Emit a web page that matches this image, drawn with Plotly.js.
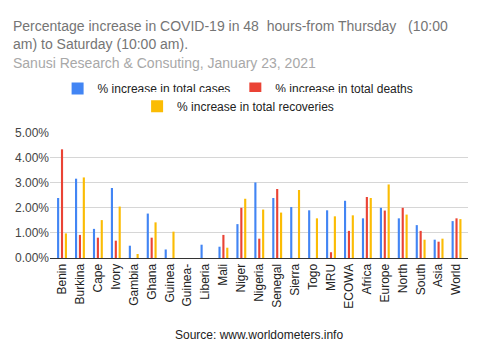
<!DOCTYPE html>
<html><head><meta charset="utf-8">
<script src="https://cdn.plot.ly/plotly-3.0.1.min.js"></script>
<style>html,body{margin:0;padding:0;background:#fff;}#chart{width:480px;height:360px;}</style>
</head><body><div id="chart"></div>
<script>
const cats = ["Benin","Burkina","Cape","Ivory","Gambia","Ghana","Guinea","Guinea-","Liberia","Mali","Niger","Nigeria","Senegal","Sierra","Togo","MRU","ECOWA","Africa","Europe","North","South","Asia","World"];
const cases      = [2.39,3.16,1.16,2.79,0.49,1.77,0.34,0,0.53,0.45,1.35,3.01,2.39,2.03,1.90,1.90,2.28,1.58,2.00,1.58,1.31,0.73,1.47];
const deaths     = [4.33,0.92,0.81,0.69,0,0.81,0,0,0,0.92,2.00,0.77,2.75,0,0,0.23,1.08,2.43,1.89,2.00,1.08,0.65,1.58];
const recoveries = [0.98,3.21,1.51,2.05,0.16,1.42,1.05,0,0,0.41,2.36,1.93,1.81,2.71,1.58,1.66,1.70,2.39,2.93,1.73,0.73,0.77,1.55];
const seriesNames = ["% increase in total cases","% increase in total deaths","% increase in total recoveries"];
const yTicks = [0,1,2,3,4,5];

const font = "Arial, 'Liberation Sans', sans-serif";
const traces = [
  {type:"bar", x:cats, y:cases, name:seriesNames[0], marker:{color:"#4285F4"}, legend:"legend"},
  {type:"bar", x:cats, y:deaths, name:seriesNames[1], marker:{color:"#EA4335"}, legend:"legend"},
  {type:"bar", x:cats, y:recoveries, name:seriesNames[2], marker:{color:"#FBBC04"}, legend:"legend2"}
];
const layout = {
  width:480, height:360,
  margin:{l:50, r:12, t:132, b:102},
  paper_bgcolor:"#fff", plot_bgcolor:"#fff",
  font:{family:font, size:12, color:"#222"},
  barmode:"group", bargap:0.35, bargroupgap:0.45,
  showlegend:true,
  legend:{orientation:"h", x:0.45, xanchor:"center", xref:"paper", y:1.345, yanchor:"middle",
          font:{size:12, color:"#222"}, itemwidth:30, traceorder:"normal"},
  legend2:{orientation:"h", x:0.45, xanchor:"center", xref:"paper", y:1.205, yanchor:"middle",
          font:{size:12, color:"#222"}, itemwidth:30},
  xaxis:{type:"category", range:[-0.67,22.64], tickangle:-90, tickfont:{size:12, color:"#222"},
         showline:true, linecolor:"#333", linewidth:1, ticks:"", showgrid:false, automargin:false},
  yaxis:{range:[0,5.02], tickvals:yTicks, ticktext:yTicks.map(v=>v.toFixed(2)+"%"),
         tickfont:{size:12, color:"#444"}, gridcolor:"#d6d6d6", zeroline:false, automargin:false},
  annotations:[
    {text:"Percentage increase in COVID-19 in 48\u00A0 hours-from Thursday\u00A0\u00A0 (10:00<br>am) to Saturday (10:00 am).",
     xref:"paper", yref:"paper", x:-0.093, y:1.77, xanchor:"left", yanchor:"middle", align:"left",
     showarrow:false, font:{size:14, color:"#757575", family:font}},
    {text:"Sanusi Research & Consuting, January 23, 2021",
     xref:"paper", yref:"paper", x:-0.093, y:1.548, xanchor:"left", yanchor:"middle", align:"left",
     showarrow:false, font:{size:14, color:"#a8a8a8", family:font}},
    {text:"Source: www.worldometers.info",
     xref:"paper", yref:"paper", x:0.5, y:-0.611, xanchor:"center", yanchor:"middle",
     showarrow:false, font:{size:12, color:"#222", family:font}}
  ]
};
Plotly.newPlot("chart", traces, layout, {staticPlot:true, displayModeBar:false});
</script>
</body></html>
